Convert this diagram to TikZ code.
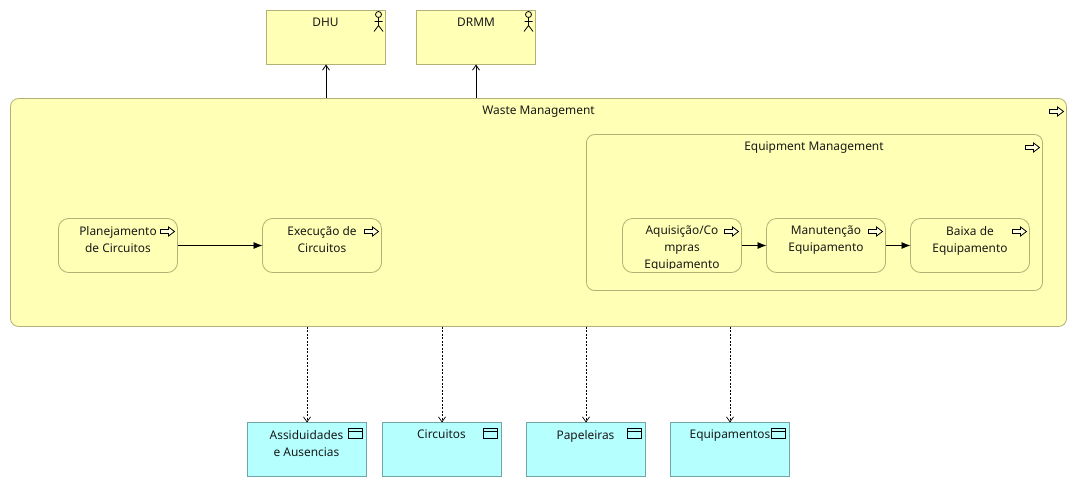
\documentclass[tikz,border=0pt]{standalone}
\usepackage{fontspec}
\setmainfont{Noto Sans}
\usetikzlibrary{arrows.meta}
\definecolor{archy}{HTML}{FFFFB5}
\definecolor{archyline}{HTML}{B2B276}
\definecolor{archc}{HTML}{B5FFFF}
\definecolor{archcline}{HTML}{72A5A5}
\definecolor{inkc}{HTML}{1A1A1A}
\tikzset{
  boxbase/.style={draw,line width=0.8pt,inner sep=0pt,outer sep=0pt,minimum width=119pt,minimum height=54pt,anchor=north west},
  actorbox/.style={boxbase,fill=archy,draw=archyline},
  procbox/.style={boxbase,fill=archy,draw=archyline,rounded corners=10pt},
  databox/.style={boxbase,fill=archc,draw=archcline},
  grp/.style={draw=archyline,fill=archy,line width=0.8pt,inner sep=0pt,outer sep=0pt,rounded corners=8pt,anchor=north west},
  lbl/.style={anchor=north,inner sep=0pt,outer sep=0pt,align=center,text=inkc,font=\fontsize{11.9}{17}\selectfont},
  icon/.style={draw=black,line width=0.8pt,fill=none},
  serve/.style={draw=black,line width=0.8pt,-{Straight Barb[length=5pt,width=7pt]}},
  trig/.style={draw=black,line width=0.8pt,-{Latex[length=9pt,width=7pt]}},
  access/.style={draw=black,line width=0.7pt,dash pattern=on 2pt off 1.5pt,-{Straight Barb[length=5pt,width=7pt,line width=0.7pt]}}
}
\newcommand{\procicon}[1]{\draw[icon,fill=white,fill opacity=0.55,shift={(#1.north east)}]
  (-17,11) -- (-9,11) -- (-9,8.5) -- (-3,13) -- (-9,17.5) -- (-9,15) -- (-17,15) -- cycle;}
\newcommand{\actoricon}[1]{\draw[icon,shift={(#1.north east)}]
  (-7,4) circle[radius=3pt] (-7,7) -- (-7,15) (-11,11) -- (-3,11) (-11.5,21) -- (-7,15) -- (-2.5,21);}
\newcommand{\dataicon}[1]{\draw[icon,shift={(#1.north east)}]
  (-18,5.5) rectangle (-4.5,15.5) (-18,8.5) -- (-4.5,8.5);}
\begin{document}
\begin{tikzpicture}[x=1pt,y=-1pt]
\useasboundingbox (0,0) rectangle (1077,487);
% group boxes
\node[grp,minimum width=1056pt,minimum height=228pt] (wm) at (10.5,98.5) {};
\node[grp,minimum width=456pt,minimum height=156pt] (em) at (586.5,134.5) {};
% actors
\node[actorbox] (dhu) at (266.5,10.5) {};
\node[actorbox] (drmm) at (416.5,10.5) {};
% processes
\node[procbox] (p1) at (58.5,218.5) {};
\node[procbox] (p2) at (262.5,218.5) {};
\node[procbox] (p3) at (622.5,218.5) {};
\node[procbox] (p4) at (766.5,218.5) {};
\node[procbox] (p5) at (910.5,218.5) {};
% data objects
\node[databox] (d1) at (247.5,422.5) {};
\node[databox] (d2) at (382.5,422.5) {};
\node[databox] (d3) at (526.5,422.5) {};
\node[databox] (d4) at (670.5,422.5) {};
% labels
\node[lbl] (tdhu) at (325.5,18) {DHU};
\node[lbl] (tdrmm) at (476,18) {DRMM};
\node[lbl] (twm) at (538.5,106) {Waste Management};
\node[lbl] (tem) at (814,142) {Equipment Management};
\node[lbl] (tp1) at (118,226) {Planejamento\\de Circuitos};
\node[lbl] (tp2) at (322,226) {Execução de\\Circuitos};
\begin{scope}
  \clip (p3.west |- 218,218) rectangle (p3.east |- 268.5,268.5);
  \node[lbl] (tp3) at (682,226) {Aquisição/Co\\mpras\\Equipamento};
\end{scope}
\node[lbl] (tp4) at (826,226) {Manutenção\\Equipamento};
\node[lbl] (tp5) at (970,226) {Baixa de\\Equipamento};
\node[lbl] (td1) at (306.5,430) {Assiduidades\\e Ausencias};
\node[lbl] (td2) at (441.5,430) {Circuitos};
\node[lbl] (td3) at (585.5,430) {Papeleiras};
\node[lbl] (td4) at (730,430) {Equipamentos};
% icons
\actoricon{dhu}
\actoricon{drmm}
\procicon{wm}
\procicon{em}
\procicon{p1}
\procicon{p2}
\procicon{p3}
\procicon{p4}
\procicon{p5}
\dataicon{d1}
\dataicon{d2}
\dataicon{d3}
\dataicon{d4}
% connectors
\draw[serve] (wm.north -| dhu.south) -- (dhu.south);
\draw[serve] (wm.north -| drmm.south) -- (drmm.south);
\draw[trig] (p1.east) -- (p2.west);
\draw[trig] (p3.east) -- (p4.west);
\draw[trig] (p4.east) -- (p5.west);
\draw[access] (wm.south -| d1.north) -- (d1.north);
\draw[access] (wm.south -| d2.north) -- (d2.north);
\draw[access] (wm.south -| d3.north) -- (d3.north);
\draw[access] (wm.south -| d4.north) -- (d4.north);
\end{tikzpicture}
\end{document}
